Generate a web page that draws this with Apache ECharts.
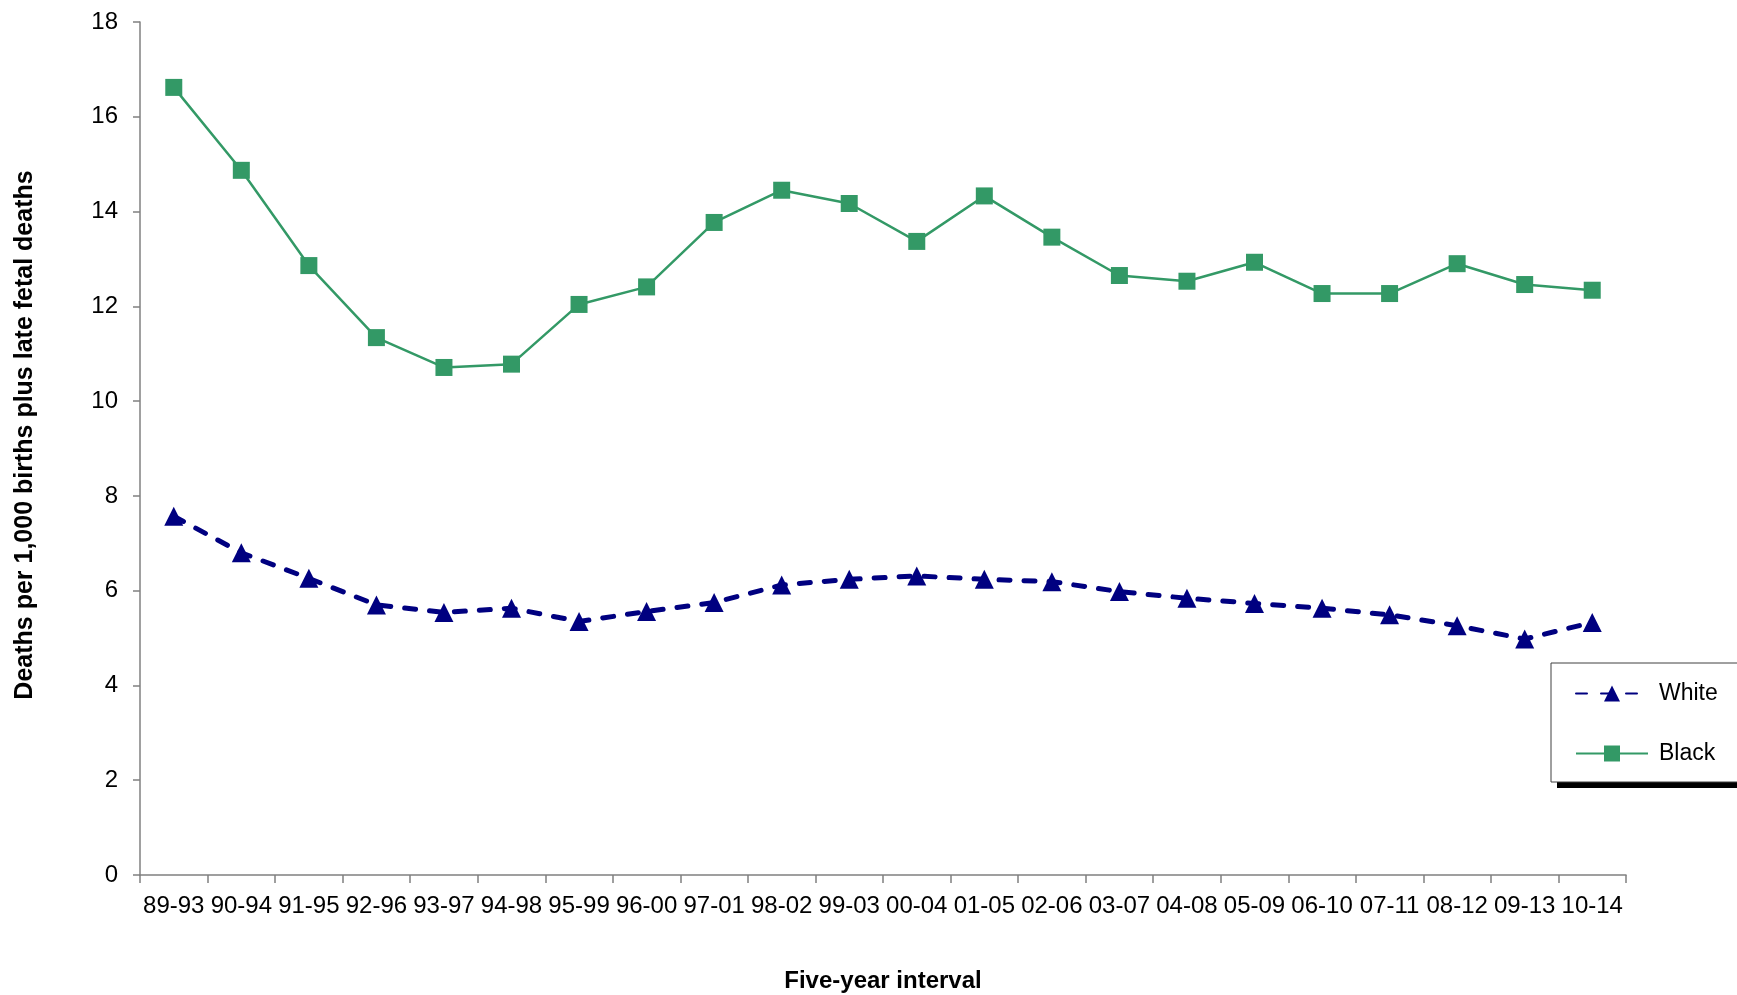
<!DOCTYPE html>
<html>
<head>
<meta charset="utf-8">
<script src="https://cdn.jsdelivr.net/npm/echarts@6/dist/echarts.min.js"></script>
<style>
html,body{margin:0;padding:0;background:#fff;overflow:hidden;}
#chart{width:1737px;height:995px;}
</style>
</head>
<body>
<div id="chart"></div>
<script>
const categories = ['89-93','90-94','91-95','92-96','93-97','94-98','95-99','96-00','97-01','98-02','99-03','00-04','01-05','02-06','03-07','04-08','05-09','06-10','07-11','08-12','09-13','10-14'];
const whiteValues = [7.57,6.80,6.26,5.70,5.54,5.63,5.35,5.56,5.75,6.12,6.24,6.31,6.24,6.19,5.98,5.84,5.73,5.63,5.49,5.26,4.98,5.33];
const blackValues = [16.62,14.87,12.86,11.34,10.71,10.78,12.04,12.41,13.77,14.45,14.17,13.37,14.33,13.46,12.65,12.53,12.93,12.27,12.27,12.90,12.46,12.34];
const yTicks = [0,2,4,6,8,10,12,14,16,18];

const FONT = '"Liberation Sans", Arial, sans-serif';
const chart = echarts.init(document.getElementById('chart'));
chart.setOption({
  animation: false,
  backgroundColor: '#ffffff',
  grid: { left: 140, width: 1486, top: 22, height: 853, containLabel: false, outerBoundsMode: 'none' },
  graphic: [
    { type: 'rect', z: 0, silent: true,
      shape: { x: 1557, y: 669, width: 200, height: 119 },
      style: { fill: '#000000' } }
  ],
  legend: {
    orient: 'vertical',
    left: 1551, top: 663,
    padding: [19, 40, 17, 24],
    itemGap: 37,
    itemWidth: 72, itemHeight: 20,
    backgroundColor: '#ffffff',
    borderColor: '#404040', borderWidth: 1,
    textStyle: { fontFamily: FONT, fontSize: 23, color: '#000', padding: [0,0,0,6] },
    data: ['White', 'Black']
  },
  xAxis: {
    type: 'category',
    data: categories,
    boundaryGap: true,
    name: 'Five-year interval',
    nameLocation: 'middle',
    nameGap: 94,
    nameTextStyle: { fontFamily: FONT, fontSize: 24, fontWeight: 'bold', color: '#000' },
    axisLine: { lineStyle: { color: '#808080', width: 1.5 } },
    axisTick: { show: true, length: 8, inside: false, lineStyle: { color: '#808080', width: 1.5 } },
    axisLabel: { fontFamily: FONT, fontSize: 24, color: '#000', margin: 19, interval: 0 },
    splitLine: { show: false }
  },
  yAxis: {
    type: 'value',
    min: 0, max: 18, interval: 2,
    name: 'Deaths per 1,000 births plus late fetal deaths',
    nameLocation: 'middle',
    nameGap: 102,
    nameTextStyle: { fontFamily: FONT, fontSize: 25, fontWeight: 'bold', color: '#000', padding: [0, 0, 0, 27] },
    axisLine: { show: true, lineStyle: { color: '#808080', width: 1.5 } },
    axisTick: { show: true, length: 7, inside: false, lineStyle: { color: '#808080', width: 1.5 } },
    axisLabel: { fontFamily: FONT, fontSize: 24, color: '#000', margin: 22,
      formatter: v => yTicks.includes(v) ? String(v) : '' },
    splitLine: { show: false }
  },
  series: [
    {
      name: 'White',
      type: 'line',
      data: whiteValues,
      symbol: 'triangle',
      symbolSize: [19, 19],
      itemStyle: { color: '#000080' },
      lineStyle: { color: '#000080', width: 5, type: [11, 14], cap: 'round' }
    },
    {
      name: 'Black',
      type: 'line',
      data: blackValues,
      symbol: 'rect',
      symbolSize: 17,
      itemStyle: { color: '#339966' },
      lineStyle: { color: '#339966', width: 2.5 }
    }
  ]
});
</script>
</body>
</html>
